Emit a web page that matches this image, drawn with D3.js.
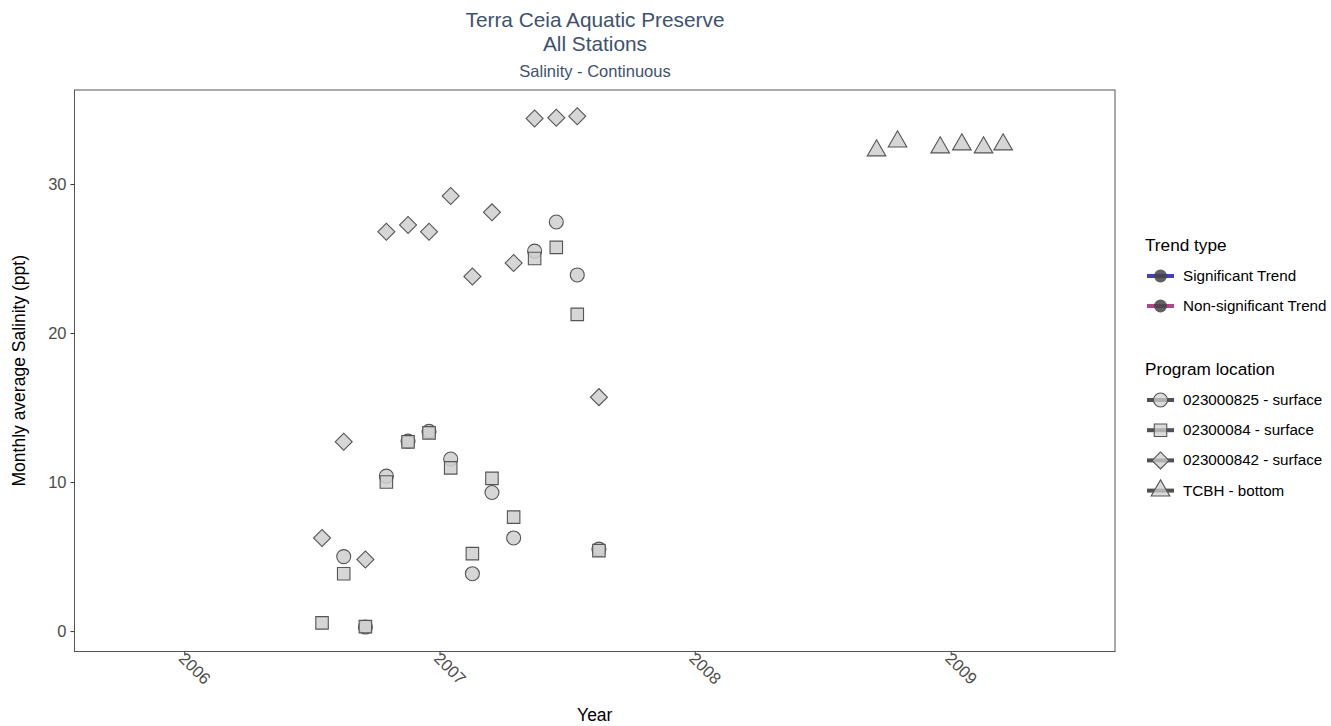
<!DOCTYPE html>
<html>
<head>
<meta charset="utf-8">
<script src="https://cdn.jsdelivr.net/npm/d3@7"></script>
<style>
  body { margin: 0; background: #fff; }
  text { font-family: "Liberation Sans", Arial, sans-serif; }
</style>
</head>
<body>
<div id="chart"></div>
<script>
// monthly averages, one array per program location
const circleMonths = ["2006-08","2006-09","2006-10","2006-11","2006-12","2007-01","2007-02","2007-03","2007-04","2007-05","2007-06","2007-07","2007-08"];
const circleValues = [5.0, 0.27, 10.4, 12.75, 13.4, 11.55, 3.85, 9.3, 6.25, 25.5, 27.45, 23.9, 5.5];

const squareMonths = ["2006-07","2006-08","2006-09","2006-10","2006-11","2006-12","2007-01","2007-02","2007-03","2007-04","2007-05","2007-06","2007-07","2007-08"];
const squareValues = [0.55, 3.85, 0.3, 10.0, 12.7, 13.3, 10.95, 5.2, 10.25, 7.65, 25.0, 25.75, 21.25, 5.4];

const diamondMonths = ["2006-07","2006-08","2006-09","2006-10","2006-11","2006-12","2007-01","2007-02","2007-03","2007-04","2007-05","2007-06","2007-07","2007-08"];
const diamondValues = [6.25, 12.7, 4.8, 26.8, 27.25, 26.8, 29.2, 23.8, 28.1, 24.7, 34.4, 34.45, 34.55, 15.7];

const triangleMonths = ["2008-09","2008-10","2008-12","2009-01","2009-02","2009-03"];
const triangleValues = [32.25, 32.85, 32.45, 32.65, 32.45, 32.65];

const yTicks = [0, 10, 20, 30];
const xTickYears = [2006, 2007, 2008, 2009];

const trendLabels = ["Significant Trend", "Non-significant Trend"];
const trendColors = ["#2b2bb0", "#a8307f"];
const locationLabels = ["023000825 - surface", "02300084 - surface", "023000842 - surface", "TCBH - bottom"];

const W = 1331, H = 726;
const margin = { left: 74.5, right: 216, top: 90, bottom: 74.5 };

const svg = d3.select("#chart").append("svg")
  .attr("width", W).attr("height", H);

const parse = d3.timeParse("%Y-%m-%d");
const toDate = m => parse(m + "-17");

const x = d3.scaleTime()
  .domain([parse("2005-07-28"), parse("2009-08-24")])
  .range([margin.left, W - margin.right]);
const y = d3.scaleLinear()
  .domain([-1.37, 36.31])
  .range([H - margin.bottom, margin.top]);

// symbols
const circle = d3.symbol().type(d3.symbolCircle).size(Math.PI * 7 * 7)();
const square = d3.symbol().type(d3.symbolSquare).size(12.5 * 12.5)();
const diamond = d3.symbol().type(d3.symbolSquare).size(12 * 12)();
const triangle = d3.symbol().type(d3.symbolTriangle).size(150)();

const series = [
  { months: circleMonths, values: circleValues, path: circle, rot: 0 },
  { months: squareMonths, values: squareValues, path: square, rot: 0 },
  { months: diamondMonths, values: diamondValues, path: diamond, rot: 45 },
  { months: triangleMonths, values: triangleValues, path: triangle, rot: 0 }
];

// titles
const titleColor = "#3e526e";
svg.append("text").attr("x", 595).attr("y", 27).attr("text-anchor", "middle")
  .attr("font-size", 20.8).attr("fill", titleColor).text("Terra Ceia Aquatic Preserve");
svg.append("text").attr("x", 595).attr("y", 51).attr("text-anchor", "middle")
  .attr("font-size", 20.8).attr("fill", titleColor).text("All Stations");
svg.append("text").attr("x", 595).attr("y", 77).attr("text-anchor", "middle")
  .attr("font-size", 16.5).attr("fill", titleColor).text("Salinity - Continuous");

// panel border
svg.append("rect")
  .attr("x", margin.left).attr("y", margin.top)
  .attr("width", W - margin.right - margin.left)
  .attr("height", H - margin.bottom - margin.top)
  .attr("fill", "none").attr("stroke", "#555").attr("stroke-width", 1);

// y axis
const yAxis = svg.append("g")
  .attr("transform", `translate(${margin.left},0)`)
  .call(d3.axisLeft(y).tickValues(yTicks).tickSize(4).tickPadding(4));
yAxis.select(".domain").remove();
yAxis.selectAll(".tick line").attr("stroke", "#333");
yAxis.selectAll(".tick text").attr("font-size", 16.5).attr("fill", "#4d4d4d")
  .attr("font-family", "Liberation Sans, Arial, sans-serif");

// x axis
const xAxis = svg.append("g")
  .attr("transform", `translate(0,${H - margin.bottom})`)
  .call(d3.axisBottom(x).tickValues(xTickYears.map(yr => new Date(yr, 0, 1)))
    .tickFormat(d3.timeFormat("%Y")).tickSize(4));
xAxis.select(".domain").remove();
xAxis.selectAll(".tick line").attr("stroke", "#333");
xAxis.selectAll(".tick text")
  .attr("font-size", 16.5).attr("fill", "#4d4d4d")
  .attr("font-family", "Liberation Sans, Arial, sans-serif")
  .attr("text-anchor", "start")
  .attr("dy", null).attr("y", 0)
  .attr("transform", "translate(-7,8) rotate(45)");

svg.append("text").attr("x", (margin.left + W - margin.right) / 2).attr("y", 721)
  .attr("text-anchor", "middle").attr("font-size", 17.5).text("Year");
svg.append("text")
  .attr("transform", `translate(25,${(margin.top + H - margin.bottom) / 2}) rotate(-90)`)
  .attr("text-anchor", "middle").attr("font-size", 17.5).text("Monthly average Salinity (ppt)");

// points
const pts = svg.append("g");
series.forEach(s => {
  pts.append("g").selectAll("path")
    .data(s.months.map((m, i) => ({ date: toDate(m), v: s.values[i] })))
    .join("path")
    .attr("d", s.path)
    .attr("transform", d => `translate(${x(d.date)},${y(d.v)}) rotate(${s.rot})`)
    .attr("fill", "#cfcfcf").attr("fill-opacity", 0.85)
    .attr("stroke", "#555").attr("stroke-width", 1.1);
});

// legend
const lg = svg.append("g").attr("transform", "translate(1145,0)");
lg.append("text").attr("x", 0).attr("y", 251).attr("font-size", 17.2).text("Trend type");
trendLabels.forEach((t, i) => {
  const cy = 276 + i * 30;
  lg.append("line").attr("x1", 2).attr("x2", 29).attr("y1", cy).attr("y2", cy)
    .attr("stroke", trendColors[i]).attr("stroke-width", 4).attr("stroke-opacity", 0.9);
  lg.append("circle").attr("cx", 15.5).attr("cy", cy).attr("r", 6.5)
    .attr("fill", "#444").attr("fill-opacity", 0.85);
  lg.append("text").attr("x", 38).attr("y", cy + 5).attr("font-size", 15.2).text(t);
});

lg.append("text").attr("x", 0).attr("y", 375).attr("font-size", 17.2).text("Program location");
locationLabels.forEach((t, i) => {
  const cy = 400 + i * 30.2;
  lg.append("line").attr("x1", 2).attr("x2", 29).attr("y1", cy).attr("y2", cy)
    .attr("stroke", "#333").attr("stroke-width", 4).attr("stroke-opacity", 0.85);
  lg.append("path").attr("d", series[i].path)
    .attr("transform", `translate(15.5,${cy}) rotate(${series[i].rot})`)
    .attr("fill", "#cfcfcf").attr("fill-opacity", 0.75)
    .attr("stroke", "#555").attr("stroke-width", 1.1);
  lg.append("text").attr("x", 38).attr("y", cy + 5).attr("font-size", 15.2).text(t);
});
</script>
</body>
</html>
